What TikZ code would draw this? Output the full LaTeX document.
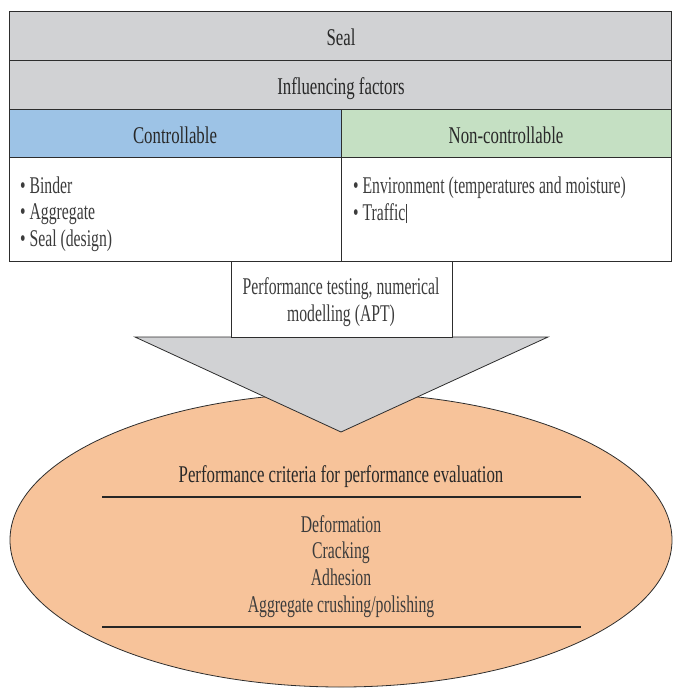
\documentclass[tikz,border=0pt]{standalone}
\usepackage{fontspec}
\setmainfont{Liberation Serif}[FakeStretch=0.7]
\newfontfamily\bodyfont{Liberation Serif}[FakeStretch=0.655]
\usetikzlibrary{shapes.geometric}
\definecolor{rowgrey}{RGB}{209,210,212}
\definecolor{ctrlblue}{RGB}{157,195,230}
\definecolor{ncgreen}{RGB}{197,224,195}
\definecolor{evalorange}{RGB}{247,195,154}
\definecolor{edge}{RGB}{45,45,45}
\definecolor{ink}{RGB}{40,40,40}
\definecolor{softink}{RGB}{60,60,60}
\tikzset{
  cell/.style={draw=edge, line width=1.3pt, anchor=north west, inner sep=0pt},
  label/.style={text=ink, inner sep=0pt, font=\fontsize{24}{27}\selectfont},
  body/.style={text=softink, inner sep=0pt, font=\fontsize{24}{27}\selectfont\bodyfont},
  item/.style={body, anchor=base west},
  mid/.style={label, anchor=base},
  midbody/.style={body, anchor=base},
}
\begin{document}
\begin{tikzpicture}[x=1pt,y=-1pt]
\useasboundingbox (0,0) rectangle (675,688);
% evaluation ellipse and the funnel above it
\node[ellipse, draw=edge, line width=0.8pt, fill=evalorange,
      minimum width=662pt, minimum height=294pt, inner sep=0pt] (eval) at (341,540) {};
\coordinate (funL) at (135,337);
\coordinate (funR) at (548,337);
\coordinate (funTip) at (341,432);
\draw[draw=edge, line width=0.8pt, fill=rowgrey] (funL) -- (funR) -- (funTip) -- cycle;
% header table
\node[cell, fill=rowgrey, minimum width=662pt, minimum height=49pt] (seal) at (9,11) {};
\node[cell, fill=rowgrey, minimum width=662pt, minimum height=49pt] (factors) at (9,60) {};
\node[cell, fill=ctrlblue, minimum width=332pt, minimum height=48pt] (ctrl) at (9,109) {};
\node[cell, fill=ncgreen, minimum width=330pt, minimum height=48pt] (nonctrl) at (341,109) {};
\node[cell, minimum width=332pt, minimum height=104pt] (ctrllist) at (9,157) {};
\node[cell, minimum width=330pt, minimum height=104pt] (nclist) at (341,157) {};
\node[cell, fill=white, minimum width=221pt, minimum height=76pt] (testing) at (231,261) {};
% headings
\node[mid] (sealtxt) at (341,45) {Seal};
\node[mid] (factorstxt) at (341,94) {Influencing factors};
\node[mid] (ctrltxt) at (175,143) {Controllable};
\node[mid] (nonctrltxt) at (506,143) {Non-controllable};
% factor lists
\node[item] (binder) at (20,193) {\textbullet\ Binder};
\node[item] (aggregate) at (20,219) {\textbullet\ Aggregate};
\node[item] (design) at (20,246) {\textbullet\ Seal (design)};
\node[item] (environment) at (353,193) {\textbullet\ Environment (temperatures and moisture)};
\node[item] (traffic) at (353,220) {\textbullet\ Traffic\kern1pt\rule[-3pt]{0.7pt}{19pt}};
% testing box
\node[midbody] (testing1) at (341,294) {Performance testing, numerical};
\node[midbody] (testing2) at (341,321) {modelling (APT)};
% criteria inside the ellipse
\node[mid] (criteria) at (341,482) {Performance criteria for performance evaluation};
\coordinate (ruleAL) at (102,497);
\coordinate (ruleAR) at (581,497);
\coordinate (ruleBL) at (102,627);
\coordinate (ruleBR) at (581,627);
\draw[line width=1.3pt, draw=black!85] (ruleAL) -- (ruleAR);
\draw[line width=1.3pt, draw=black!85] (ruleBL) -- (ruleBR);
\node[midbody] (deform) at (341,532) {Deformation};
\node[midbody] (crack) at (341,558.5) {Cracking};
\node[midbody] (adhesion) at (341,585) {Adhesion};
\node[midbody] (crushing) at (341,612) {Aggregate crushing/polishing};
\end{tikzpicture}
\end{document}
